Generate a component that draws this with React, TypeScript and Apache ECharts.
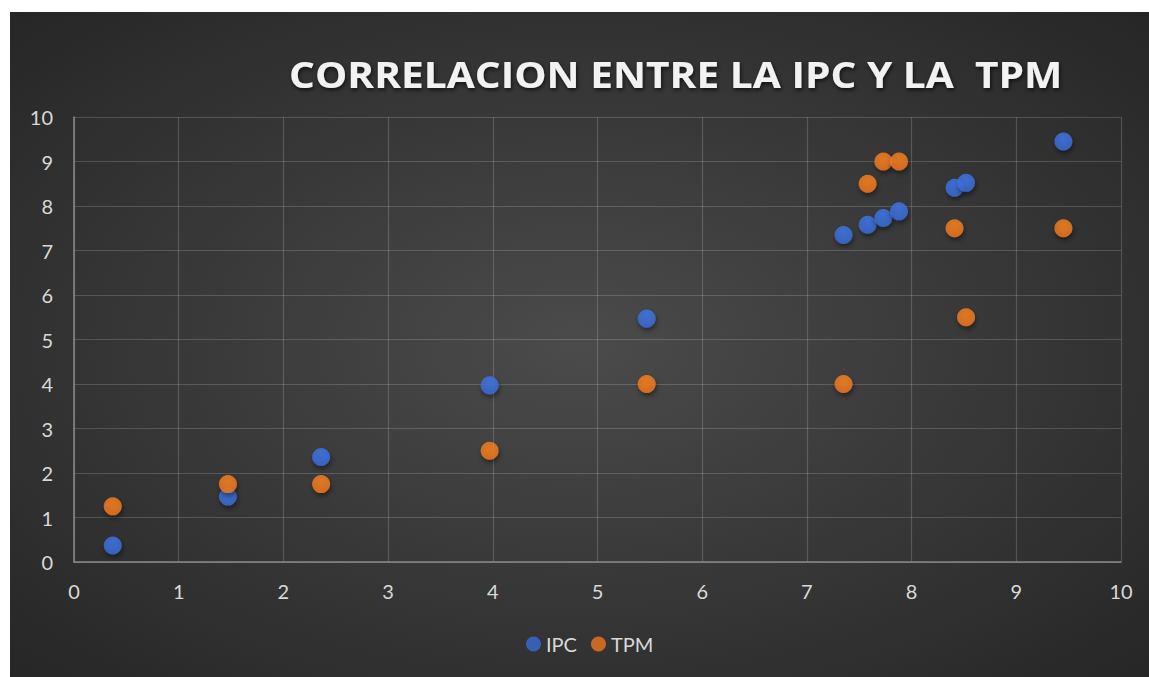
import React, { useEffect, useRef } from "react";
import * as echarts from "echarts";

const titleText = "CORRELACION ENTRE LA IPC Y LA  TPM";
const ipcX = [0.37, 1.47, 2.36, 3.97, 5.47, 7.35, 7.58, 7.73, 7.88, 8.41, 8.52, 9.45];
const ipcY = [0.37, 1.47, 2.36, 3.97, 5.47, 7.35, 7.58, 7.73, 7.88, 8.41, 8.52, 9.45];
const tpmY = [1.25, 1.75, 1.75, 2.5, 4.0, 4.0, 8.5, 9.0, 9.0, 7.5, 5.5, 7.5];
const seriesNames = ["IPC", "TPM"];
const seriesColors = ["#3a6bd2", "#f0761f"];

export default function App() {
  const ref = useRef<HTMLDivElement>(null);
  useEffect(() => {
    document.body.style.margin = "0";
    const chart = echarts.init(ref.current!, undefined, { renderer: "svg" });
    const font = "Lato, 'Open Sans', sans-serif";
    const mkData = (ys: number[]) => ipcX.map((x, i) => [x, ys[i]]);
    const mkSeries = (name: string, color: string, ys: number[]) => ({
      name,
      type: "scatter",
      data: mkData(ys),
      symbol: "circle",
      symbolSize: 18,
      itemStyle: {
        color: {
          type: "radial",
          x: 0.5,
          y: 0.3,
          r: 0.75,
          colorStops: [
            { offset: 0, color: echarts.color.lift(color, -0.15) },
            { offset: 1, color: color },
          ],
        },
        shadowColor: "rgba(0,0,0,0.55)",
        shadowBlur: 5,
        shadowOffsetX: 1,
        shadowOffsetY: 3,
      },
    });
    chart.setOption({
      animation: false,
      backgroundColor: "transparent",
      color: seriesColors,
      graphic: [
        {
          type: "text",
          x: 279,
          y: 44,
          scaleX: 1.13,
          scaleY: 1,
          style: {
            text: titleText,
            fill: "#f2f2f2",
            fontFamily: "'Open Sans', Lato, sans-serif",
            fontWeight: "bold",
            fontSize: 36,
            textShadowColor: "rgba(0,0,0,0.7)",
            textShadowBlur: 4,
            textShadowOffsetX: 1,
            textShadowOffsetY: 2,
          },
        },
      ],
      grid: { left: 64, right: 28, top: 105, bottom: 115, containLabel: false },
      xAxis: {
        type: "value",
        min: 0,
        max: 10,
        interval: 1,
        axisLine: { show: true, lineStyle: { color: "#8a8a8a", width: 1.5 } },
        axisTick: { show: false },
        axisLabel: { color: "#d9d9d9", fontSize: 20, fontFamily: font, margin: 19 },
        splitLine: { show: true, lineStyle: { color: "rgba(255,255,255,0.17)", width: 1.2 } },
      },
      yAxis: {
        type: "value",
        min: 0,
        max: 10,
        interval: 1,
        axisLine: { show: true, lineStyle: { color: "#8a8a8a", width: 1.5 } },
        axisTick: { show: false },
        axisLabel: { color: "#d9d9d9", fontSize: 20, fontFamily: font, margin: 21 },
        splitLine: { show: true, lineStyle: { color: "rgba(255,255,255,0.17)", width: 1.2 } },
      },
      legend: {
        data: seriesNames.map((n, i) => ({ name: n, itemStyle: { color: seriesColors[i] } })),
        bottom: 18,
        left: 511,
        icon: "circle",
        itemWidth: 15,
        itemHeight: 15,
        itemGap: 14,
        textStyle: { color: "#d9d9d9", fontSize: 20, fontFamily: font },
      },
      series: [
        mkSeries(seriesNames[0], seriesColors[0], ipcY),
        mkSeries(seriesNames[1], seriesColors[1], tpmY),
      ],
    });
    return () => chart.dispose();
  }, []);
  return (
    <div style={{ position: "relative", width: 1149, height: 677, background: "#ffffff", overflow: "hidden" }}>
      <div
        ref={ref}
        style={{
          position: "absolute",
          left: 10,
          top: 12,
          width: 1139,
          height: 665,
          background: "radial-gradient(ellipse at 50% 50%, #4b4b4b 0%, #3a3a3a 45%, #262626 100%)",
        }}
      />
    </div>
  );
}
